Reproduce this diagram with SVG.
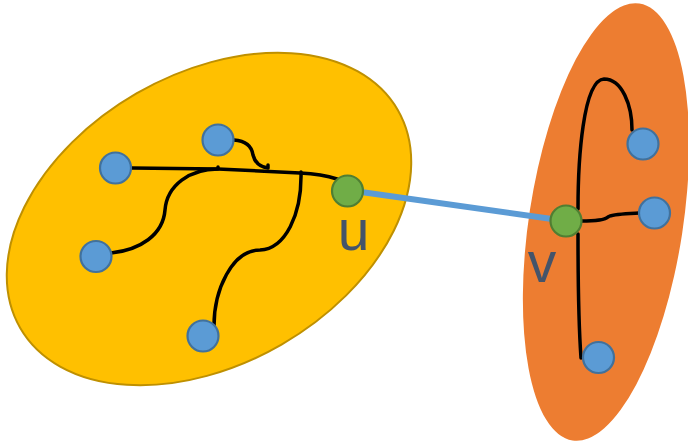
<svg xmlns="http://www.w3.org/2000/svg" width="688" height="444" viewBox="0 0 688 444">
  <style>
    .wire { fill: none; stroke: #000000; stroke-width: 3.5; stroke-linecap: round; stroke-linejoin: round; }
    .bridge { fill: none; stroke: #5B9BD5; stroke-width: 6; }
    .leaf { fill: #5B9BD5; stroke: #41719C; stroke-width: 2.2; }
    .hub { fill: #70AD47; stroke: #507E32; stroke-width: 2.2; }
    .label { font-family: "Liberation Sans", Arial, sans-serif; font-size: 57px; fill: #44546A; text-anchor: middle; }
  </style>

  <!-- clusters -->
  <g id="cluster-left">
    <ellipse cx="209" cy="219" rx="218" ry="145" transform="rotate(-30 209 219)" fill="#FFC000" stroke="#BF9000" stroke-width="2"/>
  </g>
  <g id="cluster-right">
    <ellipse cx="606" cy="222" rx="77" ry="221" transform="rotate(8.7 606 222)" fill="#ED7D31"/>
  </g>

  <!-- connectors -->
  <g id="connectors">
    <line class="bridge" x1="347" y1="190" x2="566" y2="221"/>
    <path class="wire" d="M132,168 L218,169 L300,173 Q322,174 337,179"/>
    <path class="wire" d="M234,140 C248,141 252,148 253,155 C255,163 260,167 268,168 L268,165"/>
    <path class="wire" d="M111,253 C140,250 163,235 165,210 C167,185 190,169 218,169 L218,167"/>
    <path class="wire" d="M214,326 C214,290 232,250 260,250 C285,249 302,215 301,172"/>
    <path class="wire" d="M578,209 C578,160 583,80 604,79 C622,79 632,105 632,130"/>
    <path class="wire" d="M581,221 C595,221 605,220 608,217 C612,214 625,214 639,213"/>
    <path class="wire" d="M578,234 C578,280 579,330 581,358"/>
  </g>

  <!-- nodes -->
  <g id="node-a"><circle class="leaf" cx="115.5" cy="168" r="15.5"/></g>
  <g id="node-b"><circle class="leaf" cx="218" cy="140" r="15.5"/></g>
  <g id="node-c"><circle class="leaf" cx="96" cy="256.5" r="15.5"/></g>
  <g id="node-d"><circle class="leaf" cx="203" cy="336" r="15.5"/></g>
  <g id="node-u">
    <circle class="hub" cx="347.5" cy="191" r="15.5"/>
    <text class="label" x="353.5" y="250">u</text>
  </g>
  <g id="node-e"><circle class="leaf" cx="643" cy="144" r="15.5"/></g>
  <g id="node-f"><circle class="leaf" cx="654.5" cy="213" r="15.5"/></g>
  <g id="node-g"><circle class="leaf" cx="598.5" cy="357.5" r="15.5"/></g>
  <g id="node-v">
    <circle class="hub" cx="566" cy="221" r="15.5"/>
    <text class="label" x="542" y="282">v</text>
  </g>
</svg>
